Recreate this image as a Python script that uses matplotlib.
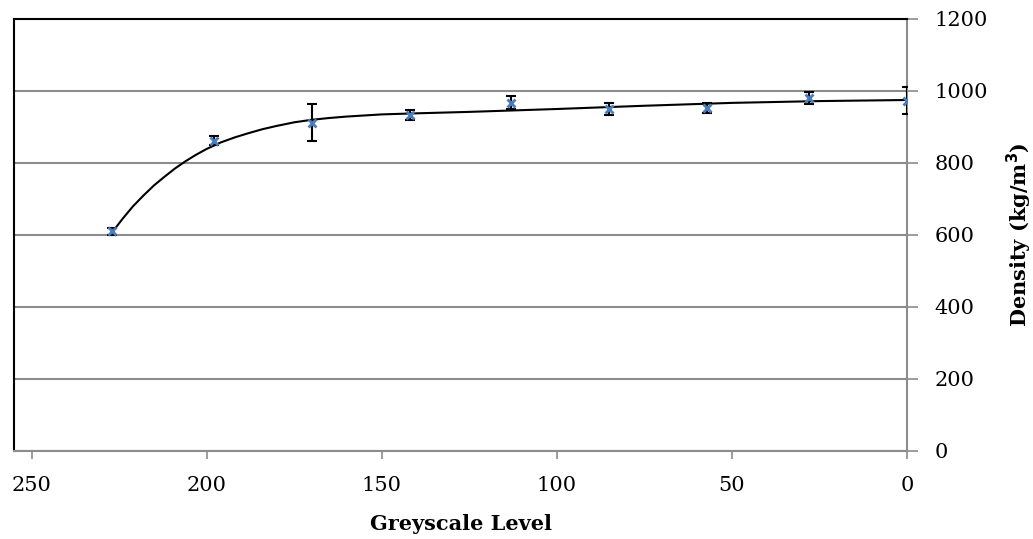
import matplotlib.pyplot as plt
import numpy as np

# measured points (greyscale level vs density)
grey = [227, 198, 170, 142, 113, 85, 57, 28, 0]
density = [610, 862, 912, 933, 968, 949, 953, 981, 973]
density_err = [10, 12, 52, 14, 18, 17, 13, 16, 38]

# trendline
trend_grey = [227, 224, 221, 218, 215, 212, 209, 206, 203, 200, 196, 192, 188,
              184, 180, 175, 170, 165, 160, 155, 150, 140, 125, 100, 75, 50, 25, 0]
trend_density = [607, 645, 680, 710, 738, 762, 785, 805, 823, 839, 857, 871, 883,
                 894, 903, 913, 920, 925, 929, 932, 935, 938, 942, 950, 959, 967, 972, 975]

x_ticks = [250, 200, 150, 100, 50, 0]
y_ticks = [0, 200, 400, 600, 800, 1000, 1200]

plt.rcParams['font.family'] = ['DejaVu Serif']

fig = plt.figure(figsize=(10.33, 5.39), dpi=100)
ax = fig.add_axes([14 / 1033, 1 - 451 / 539, (907 - 14) / 1033, (451 - 19) / 539])

# gridlines
ax.yaxis.grid(True, color='#8c8c8c', linewidth=1.5)
ax.set_axisbelow(True)

ax.plot(trend_grey, trend_density, color='black', linewidth=1.5, zorder=2)
ax.errorbar(grey, density, yerr=density_err, fmt='none', ecolor='black',
            elinewidth=1.5, capsize=3.6, capthick=1.5, zorder=3)
ax.plot(grey, density, linestyle='none', marker='x', color='#4a7ebb',
        markersize=6, markeredgewidth=2, zorder=4)

ax.set_xlim(255, 0)
ax.set_ylim(0, 1200)
ax.set_xticks(x_ticks)
ax.set_yticks(y_ticks)

ax.yaxis.tick_right()
ax.yaxis.set_label_position('right')

for side in ['left', 'top']:
    ax.spines[side].set_color('black')
    ax.spines[side].set_linewidth(1.5)
for side in ['right', 'bottom']:
    ax.spines[side].set_color('#8c8c8c')
    ax.spines[side].set_linewidth(1.5)

ax.tick_params(axis='x', direction='out', length=6, width=1.2, color='#8c8c8c',
               labelsize=15, pad=12)
ax.tick_params(axis='y', direction='out', length=8, width=1.2, color='#8c8c8c',
               labelsize=15, pad=12)

ax.set_xlabel('Greyscale Level', fontsize=15, fontweight='bold', labelpad=14)
ax.set_ylabel('Density (kg/m$\\mathbf{^3}$)', fontsize=15, fontweight='bold',
              labelpad=12)

fig.savefig('out.png', dpi=100)
